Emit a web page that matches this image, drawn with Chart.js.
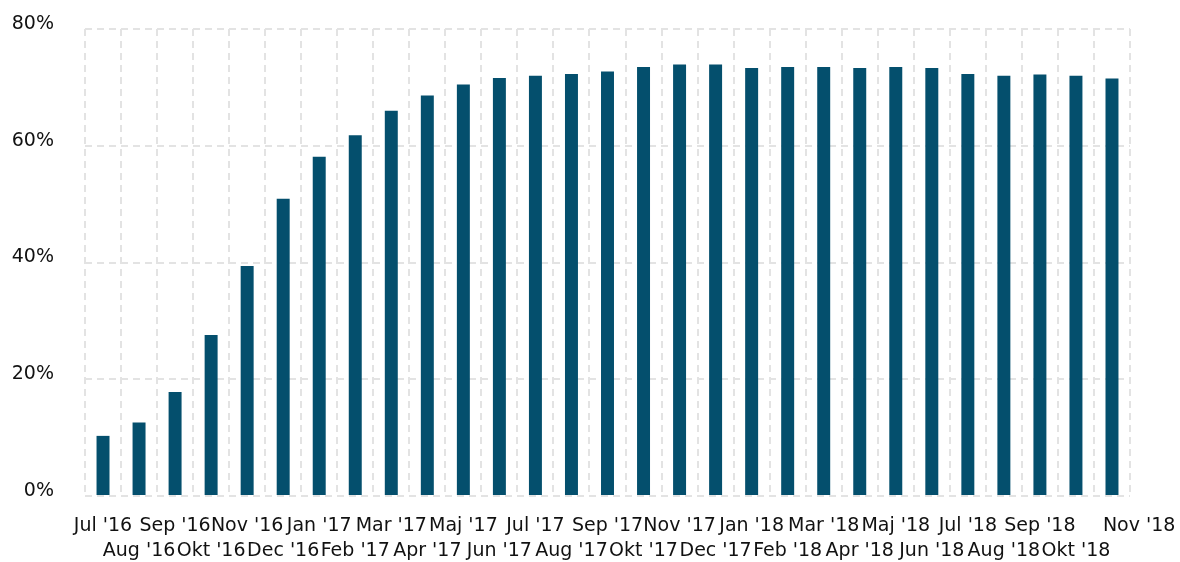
<!DOCTYPE html>
<html>
<head>
<meta charset="utf-8">
<title>Andel per månad</title>
<script src="https://cdn.jsdelivr.net/npm/chart.js@4"></script>
<style>
  html, body { margin: 0; padding: 0; background: #ffffff; }
  #ChartDiv { width: 1180px; height: 562px; }
</style>
</head>
<body>
<div id="ChartDiv"><canvas id="myChart" width="1180" height="562"></canvas></div>
<script>
// Månader på x-axeln
const months = ["Jul '16", "Aug '16", "Sep '16", "Okt '16", "Nov '16", "Dec '16",
  "Jan '17", "Feb '17", "Mar '17", "Apr '17", "Maj '17", "Jun '17",
  "Jul '17", "Aug '17", "Sep '17", "Okt '17", "Nov '17", "Dec '17",
  "Jan '18", "Feb '18", "Mar '18", "Apr '18", "Maj '18", "Jun '18",
  "Jul '18", "Aug '18", "Sep '18", "Okt '18", "Nov '18"]

// Andel i procent per månad
const shares = [10.3, 12.6, 17.8, 27.6, 39.4, 50.9,
  58.1, 61.8, 66.0, 68.6, 70.5, 71.6,
  72.0, 72.3, 72.7, 73.5, 73.9, 73.9,
  73.3, 73.5, 73.5, 73.3, 73.5, 73.3,
  72.3, 72.0, 72.2, 72.0, 71.5]

// Y-axelns steg
const yTicks = [0, 20, 40, 60, 80]

Chart.defaults.font.family = "'DejaVu Sans', sans-serif";
Chart.defaults.font.size = 19;
Chart.defaults.color = '#111111';

const gridColor = '#e3e3e3';

const ChartElement = document.getElementById('myChart');

const chart = new Chart(ChartElement, {
  type: 'bar',
  data: {
    labels: months,
    datasets: [{
      data: shares,
      backgroundColor: '#044f6d',
      borderWidth: 0,
      categoryPercentage: 1,
      barPercentage: 0.36
    }]
  },
  options: {
    responsive: false,
    animation: false,
    layout: {
      padding: { left: 12, right: 50, top: 29, bottom: 0 }
    },
    plugins: {
      legend: { display: false },
      tooltip: { enabled: false }
    },
    scales: {
      x: {
        grid: {
          color: gridColor,
          lineWidth: 2,
          drawTicks: false,
          offset: true
        },
        border: { display: false, dash: [7, 5] },
        ticks: {
          autoSkip: false,
          maxRotation: 0,
          minRotation: 0,
          padding: 18,
          font: { lineHeight: 1.3 },
          // varannan etikett på andra raden, sista flyttas lite åt höger
          callback: function (value, index) {
            let label = this.getLabelForValue(value);
            if (index === months.length - 1) label = '         ' + label;
            return index % 2 === 0 ? label : ['', label];
          }
        },
        afterFit: function (axis) {
          axis.height = 66;
          axis.paddingLeft = 0;
          axis.paddingRight = 0;
        }
      },
      y: {
        min: 0,
        max: 80,
        afterBuildTicks: function (axis) {
          axis.ticks = yTicks.map(v => ({ value: v }));
        },
        grid: {
          color: gridColor,
          lineWidth: 2,
          drawTicks: false
        },
        border: { display: false, dash: [7, 5] },
        ticks: {
          padding: 31,
          labelOffset: -5,
          callback: v => v + '%'
        },
        afterFit: function (axis) {
          axis.width = 73;
          axis.paddingTop = 0;
          axis.paddingBottom = 0;
        }
      }
    }
  }
});
</script>
</body>
</html>
